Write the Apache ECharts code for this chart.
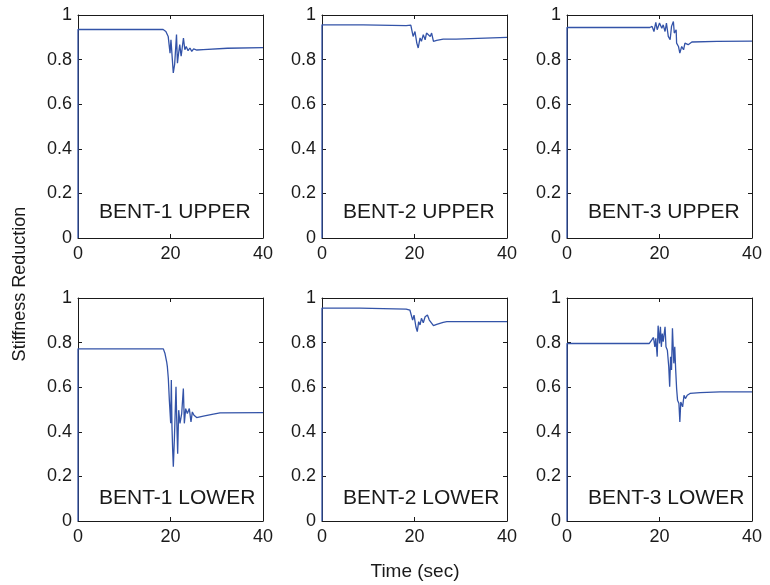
<!DOCTYPE html>
<html>
<head>
<meta charset="utf-8">
<script src="https://cdn.jsdelivr.net/npm/echarts@6/dist/echarts.min.js"></script>
<style>
  html, body { margin: 0; padding: 0; background: #fff; }
  #chart { width: 770px; height: 585px; }
</style>
</head>
<body>
<div id="chart"></div>
<script>
// Stiffness reduction histories of the bent columns, [time (s), ratio]
const bent1Upper = [[0,0],[0,0.935],[18.4,0.935],[18.8,0.93],[19.0,0.926],[19.5,0.904],[19.9,0.829],[20.1,0.889],[20.4,0.80],[20.6,0.74],[20.9,0.78],[21.3,0.912],[21.5,0.784],[21.7,0.82],[22.0,0.867],[22.3,0.815],[22.8,0.897],[23.1,0.844],[23.4,0.859],[23.8,0.84],[24.2,0.852],[24.6,0.837],[25.0,0.848],[25.7,0.843],[27.1,0.845],[27.3,0.851],[32.3,0.851],[32.5,0.854],[40,0.854]];
const bent2Upper = [[0,0],[0,0.956],[8.9,0.956],[9.0,0.952],[18.2,0.952],[18.5,0.958],[19.2,0.955],[19.7,0.904],[20.1,0.926],[20.5,0.874],[20.8,0.852],[21.2,0.897],[21.5,0.882],[21.9,0.912],[22.3,0.889],[22.6,0.919],[23.0,0.926],[23.4,0.904],[23.7,0.919],[24.1,0.882],[24.8,0.886],[26.2,0.892],[29.0,0.892],[29.1,0.9],[40,0.9]];
const bent3Upper = [[0,0],[0,0.944],[17.9,0.944],[18.4,0.949],[18.8,0.926],[19.2,0.967],[19.5,0.934],[20.0,0.964],[20.5,0.941],[20.8,0.956],[21.2,0.926],[21.5,0.964],[21.9,0.904],[22.3,0.889],[22.6,0.949],[23.0,0.971],[23.2,0.919],[23.6,0.934],[23.7,0.874],[24.1,0.859],[24.4,0.829],[24.8,0.859],[25.2,0.844],[25.5,0.874],[26.2,0.867],[27.0,0.879],[32.4,0.882],[32.6,0.883],[40,0.883]];
const bent1Lower = [[0,0],[0,0.772],[18.45,0.772],[18.81,0.751],[19.17,0.714],[19.32,0.692],[19.53,0.639],[19.75,0.542],[20.04,0.438],[20.18,0.632],[20.32,0.423],[20.47,0.317],[20.61,0.243],[20.83,0.362],[21.19,0.602],[21.33,0.467],[21.55,0.302],[21.77,0.497],[22.05,0.438],[22.42,0.482],[22.78,0.594],[22.99,0.438],[23.28,0.504],[23.64,0.482],[24.07,0.504],[24.43,0.444],[24.72,0.489],[25.08,0.474],[25.66,0.464],[27.1,0.47],[29.26,0.479],[30.7,0.485],[40,0.486]];
const bent2Lower = [[0,0],[0,0.955],[8.2,0.955],[8.3,0.95],[18.2,0.95],[18.5,0.955],[19.0,0.946],[19.6,0.901],[19.9,0.923],[20.3,0.871],[20.6,0.849],[20.9,0.894],[21.2,0.879],[21.5,0.909],[21.9,0.889],[22.3,0.916],[22.8,0.924],[23.2,0.901],[23.6,0.909],[24.1,0.876],[24.8,0.882],[26.2,0.891],[27.0,0.894],[40,0.894]];
const bent3Lower = [[0,0],[0,0.796],[17.8,0.796],[18.3,0.811],[18.7,0.823],[19.0,0.781],[19.2,0.819],[19.5,0.737],[19.7,0.876],[20.0,0.796],[20.2,0.871],[20.4,0.781],[20.6,0.841],[20.8,0.804],[21.2,0.871],[21.4,0.781],[21.7,0.766],[22.0,0.692],[22.2,0.602],[22.4,0.737],[22.6,0.677],[22.8,0.864],[23.1,0.707],[23.3,0.781],[23.5,0.677],[23.7,0.594],[23.9,0.542],[24.2,0.527],[24.4,0.444],[24.6,0.534],[25.0,0.512],[25.3,0.564],[25.6,0.549],[26.0,0.564],[26.6,0.572],[28.8,0.576],[33.1,0.579],[40,0.579]];

const panelNames = ['BENT-1 UPPER', 'BENT-2 UPPER', 'BENT-3 UPPER', 'BENT-1 LOWER', 'BENT-2 LOWER', 'BENT-3 LOWER'];
const panelSeries = [bent1Upper, bent2Upper, bent3Upper, bent1Lower, bent2Lower, bent3Lower];
const timeRange = [0, 40];
const timeStep = 20;
const ratioRange = [0, 1];
const ratioStep = 0.2;
const yAxisTitle = 'Stiffness Reduction';
const xAxisTitle = 'Time (sec)';

const colLeft = [78, 322, 567];
const rowTop = [15, 298];
const boxW = 185, boxH = 223;
const lineColor = '#3353a8';
const axisColor = '#1a1a1a';
const fontFam = '"Liberation Sans", Arial, Helvetica, sans-serif';

const grids = [], xAxes = [], yAxes = [], series = [], graphics = [];

panelSeries.forEach((data, i) => {
  const col = i % 3, row = Math.floor(i / 3);
  grids.push({ left: colLeft[col], top: rowTop[row], width: boxW, height: boxH, containLabel: false });
  const baseX = {
    type: 'value', gridIndex: i, min: timeRange[0], max: timeRange[1], interval: timeStep,
    axisLine: { show: true, onZero: false, lineStyle: { color: axisColor, width: 1 } },
    axisTick: { show: true, inside: true, length: 4, lineStyle: { color: axisColor } },
    splitLine: { show: false }
  };
  const baseY = {
    type: 'value', gridIndex: i, min: ratioRange[0], max: ratioRange[1], interval: ratioStep,
    axisLine: { show: true, onZero: false, lineStyle: { color: axisColor, width: 1 } },
    axisTick: { show: true, inside: true, length: 4, lineStyle: { color: axisColor } },
    splitLine: { show: false }
  };
  xAxes.push(Object.assign({}, baseX, {
    position: 'bottom',
    axisLabel: { show: true, color: '#1a1a1a', fontSize: 18, fontFamily: fontFam, margin: 7 }
  }));
  xAxes.push(Object.assign({}, baseX, { position: 'top', axisLabel: { show: false } }));
  yAxes.push(Object.assign({}, baseY, {
    position: 'left',
    axisLabel: { show: true, color: '#1a1a1a', fontSize: 18, fontFamily: fontFam, margin: 6,
      formatter: v => (Math.round(v * 10) / 10).toString() }
  }));
  yAxes.push(Object.assign({}, baseY, { position: 'right', axisLabel: { show: false } }));

  series.push({
    type: 'line', xAxisIndex: 2 * i, yAxisIndex: 2 * i, data: data,
    showSymbol: false, symbol: 'none', animation: false,
    lineStyle: { color: lineColor, width: 1.3 }, z: 1
  });

  graphics.push({
    type: 'text', left: colLeft[col] + 21, top: rowTop[row] + (row === 0 ? 187 : 190),
    style: { text: panelNames[i], fontSize: 21, fontFamily: fontFam, fill: '#1a1a1a' }
  });
});

graphics.push({
  type: 'text', x: 415, y: 572,
  style: { text: xAxisTitle, fontSize: 19, fontFamily: fontFam, fill: '#1a1a1a', textAlign: 'center', textVerticalAlign: 'middle' }
});
graphics.push({
  type: 'text', x: 20, y: 284, rotation: Math.PI / 2,
  style: { text: yAxisTitle, fontSize: 18, fontFamily: fontFam, fill: '#1a1a1a', textAlign: 'center', textVerticalAlign: 'middle' }
});

const chart = echarts.init(document.getElementById('chart'), null, { renderer: 'canvas' });
chart.setOption({
  backgroundColor: '#ffffff',
  animation: false,
  grid: grids,
  xAxis: xAxes,
  yAxis: yAxes,
  series: series,
  graphic: graphics
});
</script>
</body>
</html>
